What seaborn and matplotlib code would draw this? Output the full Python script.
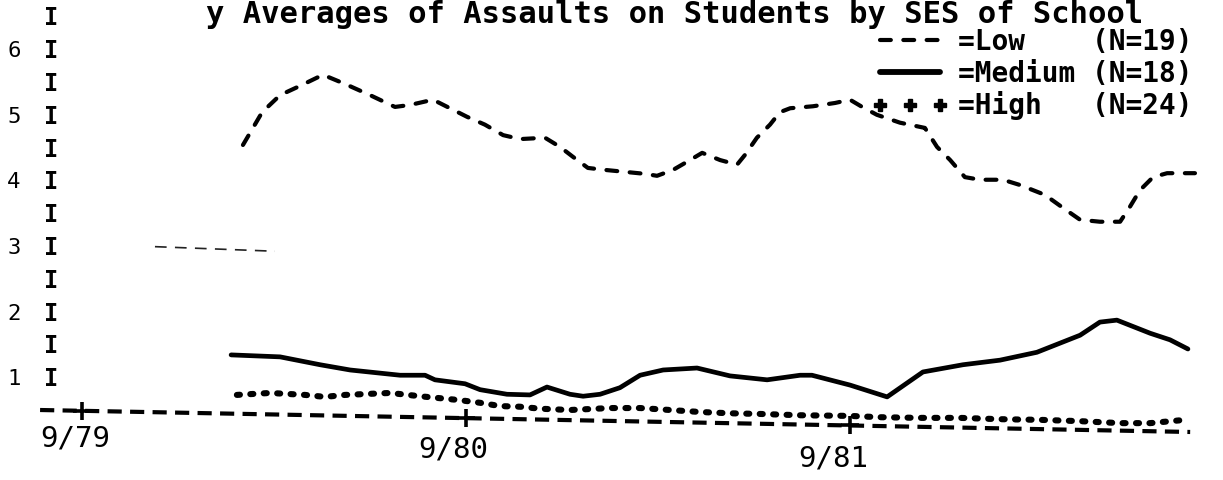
import matplotlib
matplotlib.use("Agg")
import matplotlib.pyplot as plt
from matplotlib.lines import Line2D
import seaborn as sns
import numpy as np

# months after 9/79 and plotted values
low_x = [5.03, 5.63, 6.19, 6.81, 7.53, 8.22, 9.0, 9.78, 10.25, 10.97, 11.5, 12.03,
         12.59, 13.16, 13.69, 14.47, 14.94, 15.34, 15.81, 16.34, 16.97, 17.59, 17.97,
         18.47, 19.0, 19.38, 19.94, 20.47, 20.72, 21.09, 21.5, 21.81, 22.13, 22.84,
         23.53, 24.0, 24.38, 24.84, 25.56, 26.34, 26.72, 27.13, 27.59, 28.06, 28.78,
         29.31, 30.09, 30.66, 31.19, 31.81, 32.44, 32.75, 33.06, 33.47, 33.91, 34.78]
low_y = [4.57, 5.07, 5.33, 5.47, 5.64, 5.50, 5.33, 5.15, 5.18, 5.26, 5.13, 5.00,
         4.88, 4.72, 4.66, 4.68, 4.54, 4.39, 4.22, 4.19, 4.16, 4.13, 4.10,
         4.19, 4.34, 4.45, 4.34, 4.27, 4.42, 4.68, 4.88, 5.07, 5.13, 5.16,
         5.21, 5.26, 5.15, 5.03, 4.91, 4.83, 4.54, 4.34, 4.08, 4.04, 4.04,
         3.96, 3.81, 3.61, 3.43, 3.40, 3.40, 3.63, 3.88, 4.08, 4.14, 4.14]

med_x = [4.66, 6.19, 7.44, 8.38, 9.94, 10.72, 11.03, 11.97, 12.44, 13.28, 14.0, 14.53,
         15.25, 15.66, 16.19, 16.81, 17.44, 18.16, 19.22, 20.25, 21.41, 22.44, 22.81,
         24.0, 25.16, 26.28, 27.53, 28.69, 29.84, 31.19, 31.81, 32.34, 33.38, 34.0, 34.56]
med_y = [1.37, 1.34, 1.22, 1.14, 1.06, 1.06, 0.99, 0.93, 0.84, 0.77, 0.76, 0.88,
         0.77, 0.74, 0.77, 0.87, 1.06, 1.14, 1.17, 1.05, 0.99, 1.06, 1.06,
         0.91, 0.73, 1.11, 1.22, 1.29, 1.41, 1.67, 1.87, 1.90, 1.70, 1.60, 1.46]

high_x = [4.84, 5.88, 6.97, 7.59, 8.22, 9.63, 10.56, 11.19, 11.81, 12.44, 13.06, 13.69,
          14.31, 15.25, 16.5, 17.44, 18.38, 19.31, 20.25, 21.19, 22.44, 24.0, 24.94,
          26.19, 27.44, 28.69, 29.94, 31.19, 32.44, 33.38, 34.47]
high_y = [0.76, 0.79, 0.76, 0.73, 0.76, 0.79, 0.74, 0.71, 0.68, 0.64, 0.59, 0.58,
          0.55, 0.53, 0.56, 0.56, 0.53, 0.50, 0.48, 0.47, 0.45, 0.44, 0.42,
          0.41, 0.41, 0.39, 0.38, 0.36, 0.33, 0.33, 0.38]

# stray fragment on the scan near the 3 line
stray_x = [2.28, 6.03]
stray_y = [3.02, 2.95]

# skewed baseline of the printout
base_x = [-1.31, 34.63]
base_y = [0.53, 0.195]

tick_months = [0, 12, 24]
tick_labels = ["9/79", "9/80", "9/81"]
ytick_vals = [1, 2, 3, 4, 5, 6]
legend_labels = ["=Low    (N=19)", "=Medium (N=18)", "=High   (N=24)"]
title = "y Averages of Assaults on Students by SES of School"

sns.set_theme(style="white")
plt.rcParams["font.family"] = ["DejaVu Sans Mono", "DejaVu Sans"]

fig = plt.figure(figsize=(12.23, 4.8), dpi=100)
ax = fig.add_axes([0, 0, 1, 1])
ax.set_xlim(-2.5625, 35.656)
ax.set_ylim(-0.537, 6.78)
ax.axis("off")

low_ls = (0, (2.6, 3.0))
high_ls = (0, (0.5, 1.7))

sns.lineplot(x=low_x, y=low_y, ax=ax, color="black", lw=3.0, linestyle=low_ls,
             dash_capstyle="round", sort=False, estimator=None)
sns.lineplot(x=med_x, y=med_y, ax=ax, color="black", lw=3.4,
             solid_capstyle="round", sort=False, estimator=None)
sns.lineplot(x=high_x, y=high_y, ax=ax, color="black", lw=4.4, linestyle=high_ls,
             dash_capstyle="round", sort=False, estimator=None)
sns.lineplot(x=stray_x, y=stray_y, ax=ax, color="#222222", lw=1.2,
             linestyle=(0, (7, 5)), sort=False, estimator=None)

# baseline with + ticks
sns.lineplot(x=base_x, y=base_y, ax=ax, color="black", lw=3.0,
             linestyle=(0, (3.4, 2.0)), sort=False, estimator=None)
tick_y = np.interp(tick_months, base_x, base_y)
ax.plot(tick_months, tick_y, ls="none", marker="+", ms=13, mew=2.6, color="black")

# tick labels sit lower and lower across the skewed scan
label_dx = [-0.22, -0.41, -0.53]
label_drop_px = [27, 38, 47]
for m, lab, dx, dp in zip(tick_months, tick_labels, label_dx, label_drop_px):
    ax.text(m + dx, 0.5 - dp / 65.6, lab, ha="center", va="center",
            fontsize=21, color="black")

# y axis made of I characters
for v in np.arange(1.0, 6.51, 0.5):
    ax.text(-0.95, v, "I", ha="center", va="center", fontsize=17,
            fontweight="bold", color="black")
for v in ytick_vals:
    ax.text(-2.13, v, str(v), ha="center", va="center", fontsize=16, color="black")

# legend
handles = [
    Line2D([], [], color="black", lw=3.0, linestyle=low_ls, dash_capstyle="round"),
    Line2D([], [], color="black", lw=4.2),
    Line2D([], [], color="black", ls="none", marker="P", ms=9),
]
ax.legend(handles, legend_labels, loc="upper left",
          bbox_to_anchor=(872 / 1223, 1 - 28 / 480), frameon=False,
          prop={"family": "DejaVu Sans Mono", "size": 20, "weight": "bold"},
          labelcolor="black",
          handlelength=2.75, handletextpad=0.35, labelspacing=0.13,
          borderpad=0, borderaxespad=0, numpoints=3)

fig.text(1143 / 1223, 1 - 23 / 480, title, ha="right", va="baseline",
         fontsize=22, fontweight="bold", color="black")

fig.savefig("out.png", dpi=100)
